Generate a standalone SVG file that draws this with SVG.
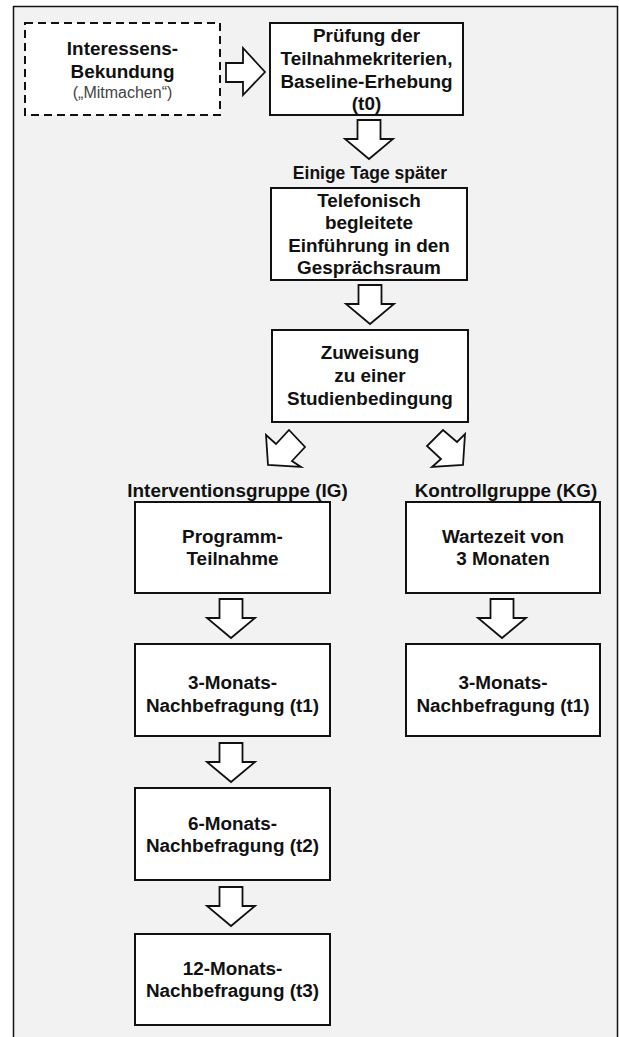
<svg xmlns="http://www.w3.org/2000/svg" width="619" height="1037" viewBox="0 0 619 1037">
<style>
.box{fill:#fff;stroke:#111;stroke-width:2}
.dash{fill:#fff;stroke:#111;stroke-width:2;stroke-dasharray:8 5}
.arr{fill:#fff;stroke:#111;stroke-width:1.8;stroke-linejoin:miter}
text{font-family:"Liberation Sans",Arial,sans-serif;fill:#111;text-anchor:middle}
.b{font-weight:bold;font-size:18.9px}
.lab{font-weight:bold;font-size:18.9px}
.small{font-size:16px;fill:#444}
.mid{font-weight:bold;font-size:17.5px}
</style>
<defs>
<path id="down" d="M-11.5,0 H11.5 V19 H24 L0,39 L-24,19 H-11.5 Z"/>
</defs>
<rect x="0" y="0" width="619" height="1037" fill="#fff"/>
<path d="M13.5,1037 V6.5 H617.5 V1037" fill="#f2f2f2" stroke="#111" stroke-width="1.5"/>
<g id="connectors">
<path class="arr" d="M226,63 H243 V48 L265,72 L243,95 V82 H226 Z"/>
<use href="#down" class="arr" x="369" y="120"/>
<use href="#down" class="arr" x="370" y="285"/>
<path class="arr" d="M268,465 L266,435 L276,444 L289,430 L305,447 L292,461 L301,467 Z"/>
<path class="arr" d="M463,465 L465,434 L457,442 L443,430 L427,446 L441,459 L432,467 Z"/>
<use href="#down" class="arr" x="231" y="599"/>
<use href="#down" class="arr" x="502" y="599"/>
<use href="#down" class="arr" x="231" y="743"/>
<use href="#down" class="arr" x="231" y="887"/>
</g>
<g id="n_interesse">
<rect class="dash" x="25" y="23" width="195" height="92"/>
<text class="b" x="122.5" y="55">Interessens-</text>
<text class="b" x="122.5" y="78">Bekundung</text>
<text class="small" x="122.5" y="97.5">(„Mitmachen“)</text>
</g>
<g id="n_pruefung">
<rect class="box" x="270" y="23" width="193" height="92"/>
<text class="b" x="366.5" y="41.5">Prüfung der</text>
<text class="b" x="366.5" y="65">Teilnahmekriterien,</text>
<text class="b" x="366.5" y="87.5">Baseline-Erhebung</text>
<text class="b" x="366.5" y="110">(t0)</text>
</g>
<g id="l_tage">
<text class="mid" x="370" y="179">Einige Tage später</text>
</g>
<g id="n_telefon">
<rect class="box" x="271" y="188" width="196" height="92"/>
<text class="b" x="369" y="206.5">Telefonisch</text>
<text class="b" x="369" y="229">begleitete</text>
<text class="b" x="369" y="252">Einführung in den</text>
<text class="b" x="369" y="274">Gesprächsraum</text>
</g>
<g id="n_zuweisung">
<rect class="box" x="272" y="330" width="196" height="92"/>
<text class="b" x="370" y="359">Zuweisung</text>
<text class="b" x="370" y="382">zu einer</text>
<text class="b" x="370" y="405">Studienbedingung</text>
</g>
<g id="l_ig"><text class="lab" x="237.5" y="497">Interventionsgruppe (IG)</text></g>
<g id="l_kg"><text class="lab" x="506" y="497">Kontrollgruppe (KG)</text></g>
<g id="n_programm">
<rect class="box" x="135" y="502" width="195" height="91"/>
<text class="b" x="232.5" y="543">Programm-</text>
<text class="b" x="232.5" y="565">Teilnahme</text>
</g>
<g id="n_wartezeit">
<rect class="box" x="406" y="502" width="194" height="91"/>
<text class="b" x="503" y="543">Wartezeit von</text>
<text class="b" x="503" y="565">3 Monaten</text>
</g>
<g id="n_ig_t1">
<rect class="box" x="135" y="644" width="195" height="92"/>
<text class="b" x="232.5" y="689">3-Monats-</text>
<text class="b" x="232.5" y="712">Nachbefragung (t1)</text>
</g>
<g id="n_kg_t1">
<rect class="box" x="406" y="644" width="194" height="92"/>
<text class="b" x="503" y="689">3-Monats-</text>
<text class="b" x="503" y="712">Nachbefragung (t1)</text>
</g>
<g id="n_ig_t2">
<rect class="box" x="135" y="788" width="195" height="92"/>
<text class="b" x="232.5" y="830">6-Monats-</text>
<text class="b" x="232.5" y="852">Nachbefragung (t2)</text>
</g>
<g id="n_ig_t3">
<rect class="box" x="135" y="934" width="195" height="91"/>
<text class="b" x="232.5" y="975">12-Monats-</text>
<text class="b" x="232.5" y="997">Nachbefragung (t3)</text>
</g>
</svg>
